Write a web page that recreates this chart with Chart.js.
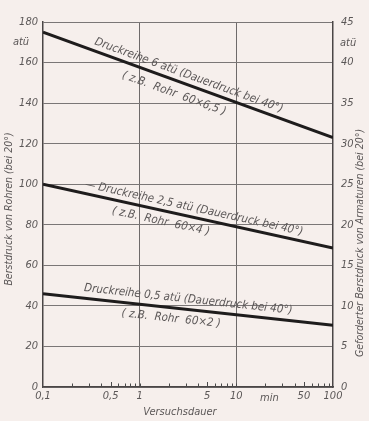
<!DOCTYPE html>
<html><head><meta charset="utf-8">
<script src="https://cdn.jsdelivr.net/npm/chart.js@4/dist/chart.umd.min.js"></script>
<style>html,body{margin:0;padding:0;background:#f6efec;}#wrap{width:369px;height:421px;}</style>
</head><body><div id="wrap"><canvas id="c" width="369" height="421"></canvas></div>
<script>
// ---- data ----
const durations = [0.1, 100];               // Versuchsdauer (min)
const series6  = [175, 123];                // Druckreihe 6 atü
const series25 = [100, 68.5];               // Druckreihe 2,5 atü
const series05 = [46, 30.5];                // Druckreihe 0,5 atü
const seriesNames = ['Druckreihe 6 atü', 'Druckreihe 2,5 atü', 'Druckreihe 0,5 atü'];
const leftTicks  = [0, 20, 40, 60, 80, 100, 120, 140, 160, 180];
const rightTicks = [0, 5, 10, 15, 20, 25, 30, 35, 40, 45];
const xTickValues = [0.1,0.2,0.3,0.4,0.5,0.6,0.7,0.8,0.9,1,2,3,4,5,6,7,8,9,10,20,30,40,50,60,70,80,90,100];
const xLabelMap = {0.1:'0,1', 0.5:'0,5', 1:'1', 5:'5', 10:'10', 50:'50', 100:'100'};
const xGridValues = [1, 10];
const upperTexts = ['Druckreihe 6 atü (Dauerdruck bei 40°)', '— Druckreihe 2,5 atü (Dauerdruck bei 40°)', 'Druckreihe 0,5 atü (Dauerdruck bei 40°)'];
const lowerTexts = ['( z.B.  Rohr  60×6,5 )', '( z.B.  Rohr  60×4 )', '( z.B.  Rohr  60×2 )'];
const leftTitle = 'Berstdruck von Rohren (bei 20°)';
const rightTitle = 'Geforderter Berstdruck von Armaturen (bei 20°)';
const xTitle = 'Versuchsdauer';
const unitY = 'atü';
const unitX = 'min';

// ---- styling / placement ----
const FONT = '"DejaVu Sans Condensed", "Liberation Sans Narrow", sans-serif';
const TXT = '#5b5757';
const annot = [
  {ds:0, upStart:0.32, upOff:-9, upW:222, loStart:0.74, loOff:13, loW:118},
  {ds:1, upStart:0.26, upOff:-9, upW:225, loStart:0.55, loOff:11, loW:122},
  {ds:2, upStart:0.26, upOff:-10, upW:228, loStart:0.67, loOff:11, loW:116}
];

const decor = {
  id:'decor',
  afterDraw(chart){
    const {ctx} = chart; const x = chart.scales.x; const ca = chart.chartArea;
    ctx.save();
    // inward minor ticks on x axis
    ctx.strokeStyle = '#4a4a4a'; ctx.lineWidth = 1;
    xTickValues.forEach(v => {
      if (v === 0.1 || v === 100) return;
      const px = Math.round(x.getPixelForValue(v)) + 0.5;
      const len = (v === 0.5 || v === 5 || v === 50) ? 5 : 3.5;
      ctx.beginPath(); ctx.moveTo(px, ca.bottom); ctx.lineTo(px, ca.bottom - len); ctx.stroke();
    });
    ctx.fillStyle = TXT;
    // line annotations
    annot.forEach((a, i) => {
      const pts = chart.getDatasetMeta(a.ds).data;
      const p0 = pts[0], p1 = pts[pts.length - 1];
      const ang = Math.atan2(p1.y - p0.y, p1.x - p0.x);
      const yAt = px => p0.y + (px - p0.x) * (p1.y - p0.y) / (p1.x - p0.x);
      [[a.upStart, a.upOff, a.upW, upperTexts[i]], [a.loStart, a.loOff, a.loW, lowerTexts[i]]].forEach(([sx, off, w, t]) => {
        const px = x.getPixelForValue(sx);
        ctx.save();
        ctx.translate(px, yAt(px));
        ctx.rotate(ang);
        ctx.font = 'italic 11.5px ' + FONT;
        ctx.textAlign = 'left'; ctx.textBaseline = 'middle';
        ctx.fillText(t, 0, off, w);
        ctx.restore();
      });
    });
    // axis titles
    ctx.font = 'italic 10.5px ' + FONT;
    ctx.textAlign = 'center'; ctx.textBaseline = 'middle';
    ctx.save(); ctx.translate(9, 209); ctx.rotate(-Math.PI/2); ctx.fillText(leftTitle, 0, 0, 184); ctx.restore();
    ctx.save(); ctx.translate(360, 243); ctx.rotate(-Math.PI/2); ctx.fillText(rightTitle, 0, 0, 305); ctx.restore();
    ctx.font = 'italic 11px ' + FONT;
    ctx.fillText(xTitle, (ca.left + ca.right)/2 - 8, 412);
    ctx.fillText(unitX, x.getPixelForValue(22), 398);
    ctx.fillText(unitY, 21, 42);
    ctx.textAlign = 'left';
    ctx.fillText(unitY, 340, 43);
    ctx.restore();
  }
};

const lineDs = (label, data) => ({
  label, data: durations.map((d, i) => ({x: d, y: data[i]})),
  borderColor: '#1e1c1c', borderWidth: 3, pointRadius: 0, fill: false, tension: 0, yAxisID: 'y'
});

new Chart(document.getElementById('c'), {
  type: 'line',
  data: { datasets: [lineDs(seriesNames[0], series6), lineDs(seriesNames[1], series25), lineDs(seriesNames[2], series05)] },
  plugins: [decor],
  options: {
    responsive: false, animation: false, devicePixelRatio: 1,
    layout: { padding: { top: 22, left: 0, right: 0, bottom: 0 } },
    plugins: { legend: { display: false }, tooltip: { enabled: false } },
    scales: {
      x: {
        type: 'logarithmic', min: 0.1, max: 100,
        afterBuildTicks: s => { s.ticks = xTickValues.map(v => ({value: v})); },
        afterFit: s => { s.height = 34; },
        ticks: { autoSkip: false, maxRotation: 0, padding: 3, color: TXT,
          font: { family: FONT, size: 11, style: 'italic' },
          callback: v => xLabelMap[v] !== undefined ? xLabelMap[v] : '' },
        grid: { drawTicks: false, lineWidth: 1,
          color: c => (c.tick && xGridValues.includes(c.tick.value)) ? '#6e6a6a' : 'rgba(0,0,0,0)' },
        border: { color: '#4a4646', width: 1.5 }
      },
      y: {
        position: 'left', min: 0, max: 180,
        afterBuildTicks: s => { s.ticks = leftTicks.map(v => ({value: v})); },
        afterFit: s => { s.width = 43; },
        ticks: { padding: 5, color: TXT, font: { family: FONT, size: 11, style: 'italic' } },
        grid: { drawTicks: false, color: '#7a7676', lineWidth: 1 },
        border: { color: '#4a4646', width: 1.5 }
      },
      y2: {
        position: 'right', min: 0, max: 45,
        afterBuildTicks: s => { s.ticks = rightTicks.map(v => ({value: v})); },
        afterFit: s => { s.width = 36; },
        ticks: { padding: 8, color: TXT, font: { family: FONT, size: 11, style: 'italic' } },
        grid: { display: false, drawTicks: false },
        border: { color: '#4a4646', width: 1.5 }
      }
    }
  }
});
</script>
</body></html>
